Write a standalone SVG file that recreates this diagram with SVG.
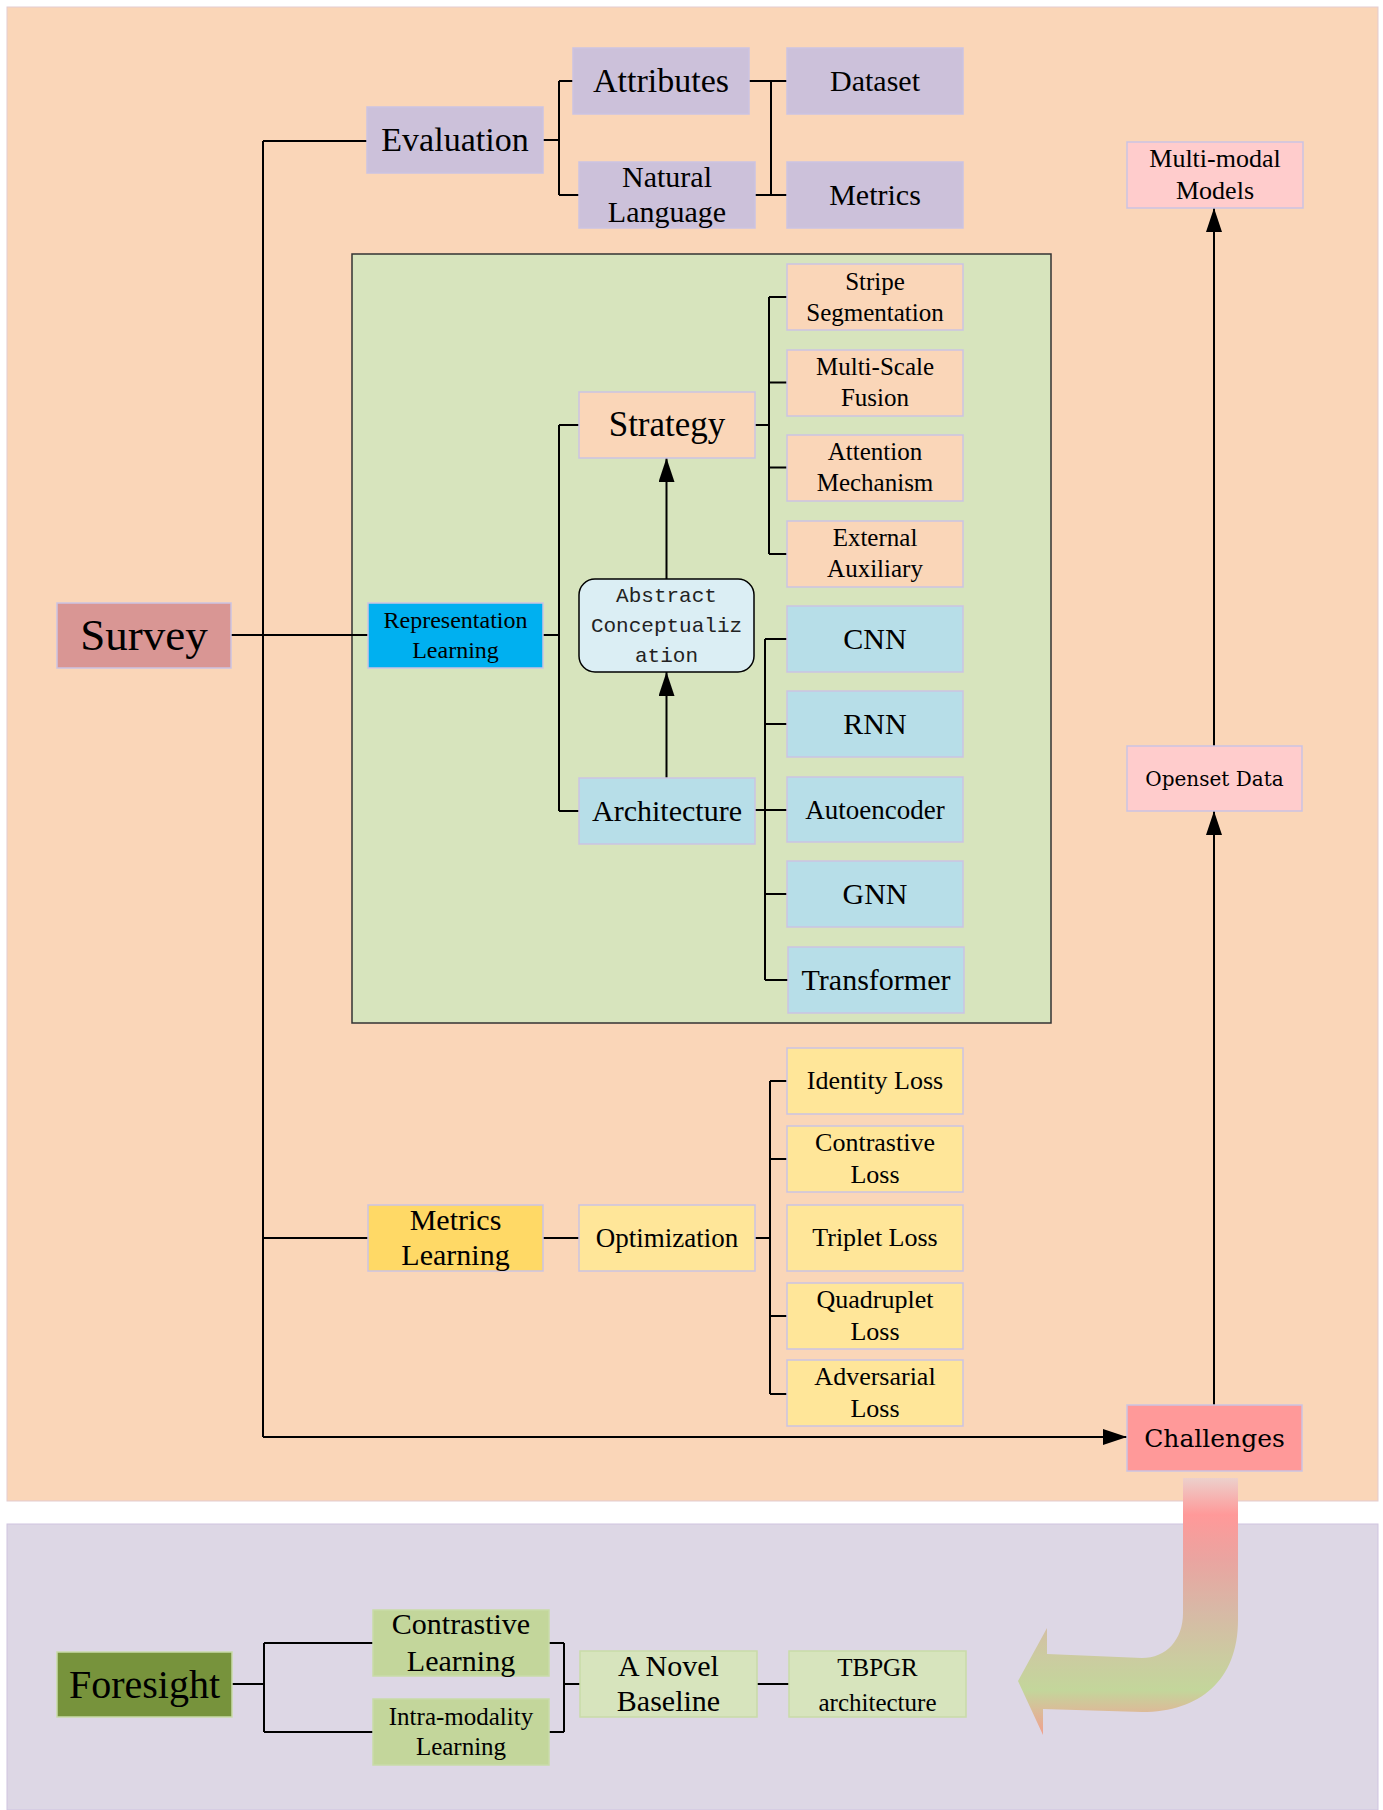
<svg xmlns="http://www.w3.org/2000/svg" width="1383" height="1810" viewBox="0 0 1383 1810">
<style>
.t{font-family:"Liberation Serif","Times New Roman",serif;fill:#000;text-anchor:middle}
.m{font-family:"Liberation Mono","Courier New",monospace;fill:#222;text-anchor:middle}
.w{font-family:"DejaVu Serif",serif;fill:#000;text-anchor:middle}
.n{stroke:#cbc3e2;stroke-width:1.5}
.ng{stroke:#c9dba8;stroke-width:1.5}
.c{fill:none;stroke:#000;stroke-width:2}
</style>
<defs>
<marker id="ah" markerUnits="userSpaceOnUse" markerWidth="24" markerHeight="16" refX="24" refY="8" orient="auto">
<path d="M0,0 L24,8 L0,16 Z" fill="#000"/>
</marker>
<linearGradient id="bg" gradientUnits="userSpaceOnUse" x1="0" y1="1478" x2="0" y2="1740">
<stop offset="0" stop-color="#ecd0cc"/>
<stop offset="0.14" stop-color="#ff9999"/>
<stop offset="0.31" stop-color="#eaa4a0"/>
<stop offset="0.5" stop-color="#d8b8a6"/>
<stop offset="0.69" stop-color="#cbcca0"/>
<stop offset="0.81" stop-color="#c3d69b"/>
<stop offset="0.89" stop-color="#dbbb98"/>
<stop offset="1" stop-color="#f69a8a"/>
</linearGradient>
</defs>
<rect x="0" y="0" width="1383" height="1810" fill="#fff"/>
<g id="panels">
<rect x="7" y="7" width="1371" height="1494" fill="#fad6b8" stroke="#e3cbd0" stroke-width="1"/>
<rect x="7" y="1524" width="1371" height="286" fill="#ddd7e5" stroke="#cfc3e0" stroke-width="1"/>
<rect x="352" y="254" width="699" height="769" fill="#d7e4bd" stroke="#333" stroke-width="1.5"/>
</g>
<g id="bigarrow">
<path d="M1183,1478 L1238,1478 L1238,1620 C1238,1680 1200,1712 1142,1712 L1043,1709 L1043,1735 L1018,1681 L1047,1628 L1047,1654 L1142,1658 C1166,1658 1183,1640 1183,1613 Z" fill="url(#bg)"/>
</g>
<g id="connectors">
<path class="c" d="M263,141 V1437 M263,141 H367 M231,635 H368 M263,1238 H368"/>
<path class="c" d="M263,1437 H1127" marker-end="url(#ah)"/>
<path class="c" d="M543,140 H559 M559,81 V195 M559,81 H573 M559,195 H579"/>
<path class="c" d="M749,81 H787 M771,81 V195 M755,195 H787"/>
<path class="c" d="M543,635 H559 M559,425 V811 M559,425 H579 M559,811 H579"/>
<path class="c" d="M755,425 H769 M769,297 V554 M769,297 H787 M769,382.5 H787 M769,467.5 H787 M769,554 H787"/>
<path class="c" d="M755,810 H787 M765,639 V980 M765,639 H787 M765,724 H787 M765,894 H787 M765,980 H788"/>
<path class="c" d="M666.5,778 V672" marker-end="url(#ah)"/>
<path class="c" d="M666.5,579 V458" marker-end="url(#ah)"/>
<path class="c" d="M543,1238 H579 M755,1238 H770 M770,1081 V1394 M770,1081 H787 M770,1159 H787 M770,1316 H787 M770,1394 H787"/>
<path class="c" d="M1214,1405 V811" marker-end="url(#ah)"/>
<path class="c" d="M1214,746 V208" marker-end="url(#ah)"/>
<path class="c" d="M232,1684 H264 M264,1643 V1732 M264,1643 H373 M264,1732 H373 M549,1643 H564 M549,1732 H564 M564,1643 V1732 M564,1684 H580 M757,1684 H789"/>
</g>
<g id="survey"><rect class="n" x="57" y="603" width="174" height="65" fill="#d99694"/><text class="t" x="144" y="650" font-size="45">Survey</text></g>
<g id="evaluation"><rect class="n" x="367" y="107" width="176" height="66" fill="#ccc1da"/><text class="t" x="455" y="151" font-size="34">Evaluation</text></g>
<g id="attributes"><rect class="n" x="573" y="48" width="176" height="66" fill="#ccc1da"/><text class="t" x="661" y="92" font-size="34">Attributes</text></g>
<g id="natural-language"><rect class="n" x="579" y="162" width="176" height="66" fill="#ccc1da"/><text class="t" x="667" y="187" font-size="30">Natural</text><text class="t" x="667" y="222" font-size="30">Language</text></g>
<g id="dataset"><rect class="n" x="787" y="48" width="176" height="66" fill="#ccc1da"/><text class="t" x="875" y="91" font-size="30">Dataset</text></g>
<g id="metrics"><rect class="n" x="787" y="162" width="176" height="66" fill="#ccc1da"/><text class="t" x="875" y="205" font-size="30">Metrics</text></g>
<g id="multi-modal"><rect class="n" x="1127" y="142" width="176" height="66" fill="#ffcccc"/><text class="t" x="1215" y="167" font-size="26">Multi-modal</text><text class="t" x="1215" y="199" font-size="26">Models</text></g>
<g id="representation-learning"><rect class="n" x="368" y="603" width="175" height="65" fill="#00b0f0"/><text class="t" x="455.5" y="628" font-size="24">Representation</text><text class="t" x="455.5" y="658" font-size="24">Learning</text></g>
<g id="strategy"><rect class="n" x="579" y="392" width="176" height="66" fill="#fad6b8"/><text class="t" x="667" y="436" font-size="35">Strategy</text></g>
<g id="abstract"><rect x="579" y="579" width="175" height="93" rx="16" fill="#dbeef4" stroke="#000" stroke-width="1.5"/><text class="m" x="666.5" y="602" font-size="21">Abstract</text><text class="m" x="666.5" y="632" font-size="21">Conceptualiz</text><text class="m" x="666.5" y="662" font-size="21">ation</text></g>
<g id="architecture"><rect class="n" x="579" y="778" width="176" height="66" fill="#b7dee8"/><text class="t" x="667" y="821" font-size="30">Architecture</text></g>
<g id="stripe"><rect class="n" x="787" y="264" width="176" height="66" fill="#fad6b8"/><text class="t" x="875" y="289.5" font-size="25">Stripe</text><text class="t" x="875" y="320.5" font-size="25">Segmentation</text></g>
<g id="multi-scale"><rect class="n" x="787" y="350" width="176" height="66" fill="#fad6b8"/><text class="t" x="875" y="375" font-size="25">Multi-Scale</text><text class="t" x="875" y="406" font-size="25">Fusion</text></g>
<g id="attention"><rect class="n" x="787" y="435" width="176" height="66" fill="#fad6b8"/><text class="t" x="875" y="460" font-size="25">Attention</text><text class="t" x="875" y="491" font-size="25">Mechanism</text></g>
<g id="external"><rect class="n" x="787" y="521" width="176" height="66" fill="#fad6b8"/><text class="t" x="875" y="546" font-size="25">External</text><text class="t" x="875" y="577" font-size="25">Auxiliary</text></g>
<g id="cnn"><rect class="n" x="787" y="606" width="176" height="66" fill="#b7dee8"/><text class="t" x="875" y="649" font-size="30">CNN</text></g>
<g id="rnn"><rect class="n" x="787" y="691" width="176" height="66" fill="#b7dee8"/><text class="t" x="875" y="734" font-size="30">RNN</text></g>
<g id="autoencoder"><rect class="n" x="787" y="777" width="176" height="65" fill="#b7dee8"/><text class="t" x="875" y="818.5" font-size="27">Autoencoder</text></g>
<g id="gnn"><rect class="n" x="787" y="861" width="176" height="66" fill="#b7dee8"/><text class="t" x="875" y="904" font-size="30">GNN</text></g>
<g id="transformer"><rect class="n" x="788" y="947" width="176" height="66" fill="#b7dee8"/><text class="t" x="876" y="989.5" font-size="30">Transformer</text></g>
<g id="metrics-learning"><rect class="n" x="368" y="1205" width="175" height="66" fill="#ffd966"/><text class="t" x="455.5" y="1230" font-size="30">Metrics</text><text class="t" x="455.5" y="1265" font-size="30">Learning</text></g>
<g id="optimization"><rect class="n" x="579" y="1205" width="176" height="66" fill="#ffe699"/><text class="t" x="667" y="1247" font-size="27">Optimization</text></g>
<g id="identity-loss"><rect class="n" x="787" y="1048" width="176" height="66" fill="#ffe699"/><text class="t" x="875" y="1089" font-size="26">Identity Loss</text></g>
<g id="contrastive-loss"><rect class="n" x="787" y="1126" width="176" height="66" fill="#ffe699"/><text class="t" x="875" y="1151" font-size="26">Contrastive</text><text class="t" x="875" y="1183" font-size="26">Loss</text></g>
<g id="triplet-loss"><rect class="n" x="787" y="1205" width="176" height="66" fill="#ffe699"/><text class="t" x="875" y="1246" font-size="26">Triplet Loss</text></g>
<g id="quadruplet-loss"><rect class="n" x="787" y="1283" width="176" height="66" fill="#ffe699"/><text class="t" x="875" y="1308" font-size="26">Quadruplet</text><text class="t" x="875" y="1340" font-size="26">Loss</text></g>
<g id="adversarial-loss"><rect class="n" x="787" y="1360" width="176" height="66" fill="#ffe699"/><text class="t" x="875" y="1385" font-size="26">Adversarial</text><text class="t" x="875" y="1417" font-size="26">Loss</text></g>
<g id="challenges"><rect class="n" x="1127" y="1405" width="175" height="66" fill="#ff9999"/><text class="w" x="1214.5" y="1447" font-size="25">Challenges</text></g>
<g id="openset"><rect class="n" x="1127" y="746" width="175" height="65" fill="#ffcccc"/><text class="w" x="1214.5" y="786" font-size="20">Openset Data</text></g>
<g id="foresight"><rect class="ng" x="57" y="1652" width="175" height="65" fill="#77933c"/><text class="t" x="144.5" y="1697.5" font-size="40">Foresight</text></g>
<g id="contrastive-learning"><rect class="ng" x="373" y="1610" width="176" height="66" fill="#c3d69b"/><text class="t" x="461" y="1634" font-size="30">Contrastive</text><text class="t" x="461" y="1671" font-size="30">Learning</text></g>
<g id="intra-modality"><rect class="ng" x="373" y="1699" width="176" height="66" fill="#c3d69b"/><text class="t" x="461" y="1725" font-size="25">Intra-modality</text><text class="t" x="461" y="1755" font-size="25">Learning</text></g>
<g id="novel-baseline"><rect class="ng" x="580" y="1651" width="177" height="66" fill="#d7e4bd"/><text class="t" x="668.5" y="1676" font-size="30">A Novel</text><text class="t" x="668.5" y="1711" font-size="30">Baseline</text></g>
<g id="tbpgr"><rect class="ng" x="789" y="1651" width="177" height="66" fill="#d7e4bd"/><text class="t" x="877.5" y="1676" font-size="25">TBPGR</text><text class="t" x="877.5" y="1711" font-size="25">architecture</text></g>
</svg>
